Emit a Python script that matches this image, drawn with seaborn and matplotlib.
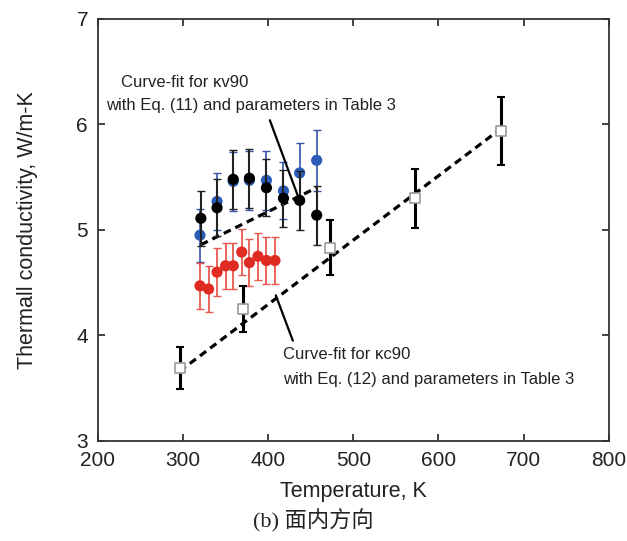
"""
Thermal conductivity vs temperature, in-plane direction (panel b).
"""

import numpy as np
import pandas as pd
import matplotlib
matplotlib.use("Agg")
import matplotlib.pyplot as plt
import seaborn as sns

# measured kappa_v90 (blue), kappa (black), kappa (red), kappa_c90 (open squares)
t_blue = [320, 340, 359, 378, 398, 418, 437, 457]
k_blue = [4.95, 5.27, 5.46, 5.47, 5.47, 5.37, 5.54, 5.66]
e_blue = [0.25, 0.27, 0.28, 0.28, 0.28, 0.27, 0.28, 0.29]

t_black = [321, 340, 359, 378, 398, 418, 437, 457]
k_black = [5.11, 5.21, 5.48, 5.49, 5.40, 5.30, 5.28, 5.14]
e_black = [0.26, 0.27, 0.28, 0.28, 0.27, 0.27, 0.28, 0.28]

t_red = [320, 330, 340, 350, 359, 369, 378, 388, 398, 408]
k_red = [4.47, 4.44, 4.60, 4.66, 4.66, 4.79, 4.69, 4.75, 4.71, 4.71]
e_red = [0.22, 0.22, 0.23, 0.22, 0.22, 0.22, 0.22, 0.22, 0.22, 0.22]

t_open = [297, 371, 473, 572, 673]
k_open = [3.69, 4.25, 4.83, 5.30, 5.94]
e_open = [0.20, 0.22, 0.26, 0.28, 0.32]

# curve fits (end points)
t_fit_v = [321, 457]
k_fit_v = [4.86, 5.40]
t_fit_c = [296, 675]
k_fit_c = [3.66, 5.97]

OUT = "out.png"


def main():
    sns.set_style("ticks")
    plt.rcParams["font.family"] = ["Liberation Sans", "DejaVu Sans"]
    plt.rcParams["axes.edgecolor"] = "#333333"
    plt.rcParams["xtick.color"] = "#333333"
    plt.rcParams["ytick.color"] = "#333333"

    fig = plt.figure(figsize=(6.27, 5.41), dpi=100)
    ax = fig.add_axes([0.156, 0.185, 0.815, 0.78])

    fit_v = pd.DataFrame({"T": t_fit_v, "k": k_fit_v})
    fit_c = pd.DataFrame({"T": t_fit_c, "k": k_fit_c})
    sns.lineplot(data=fit_v, x="T", y="k", ax=ax, color="black", lw=2.3,
                 linestyle=(0, (2.4, 1.6)), zorder=2)
    sns.lineplot(data=fit_c, x="T", y="k", ax=ax, color="black", lw=2.3,
                 linestyle=(0, (2.4, 1.6)), zorder=2)

    ax.errorbar(t_blue, k_blue, yerr=e_blue, fmt="none", ecolor="#3553a8",
                elinewidth=1.2, capsize=3, zorder=3)
    sns.scatterplot(x=t_blue, y=k_blue, ax=ax, color="#2b5cb8", s=65,
                    edgecolor="none", zorder=4)

    ax.errorbar(t_black, k_black, yerr=e_black, fmt="none", ecolor="#222222",
                elinewidth=1.5, capsize=3, zorder=5)
    sns.scatterplot(x=t_black, y=k_black, ax=ax, color="black", s=65,
                    edgecolor="none", zorder=6)

    ax.errorbar(t_red, k_red, yerr=e_red, fmt="none", ecolor="#e8584e",
                elinewidth=1.3, capsize=3, zorder=7)
    sns.scatterplot(x=t_red, y=k_red, ax=ax, color="#e02b22", s=65,
                    edgecolor="none", zorder=8)

    ax.errorbar(t_open, k_open, yerr=e_open, fmt="none", ecolor="black",
                elinewidth=2.2, capsize=3, capthick=1.5, zorder=7)
    sns.scatterplot(x=t_open, y=k_open, ax=ax, marker="s", s=55,
                    facecolor="white", edgecolor="#9a9a9a", linewidth=1.2,
                    zorder=8)

    # leader lines
    ax.plot([402, 435], [6.04, 5.32], color="black", lw=1.6, zorder=9)
    ax.plot([409, 429], [4.38, 3.95], color="black", lw=1.6, zorder=9)

    ax.text(227, 6.40, "Curve-fit for κv90", fontsize=12, color="#222222",
            va="center")
    ax.text(210, 6.18, "with Eq. (11) and parameters in Table 3",
            fontsize=12, color="#222222", va="center")
    ax.text(417, 3.82, "Curve-fit for κc90", fontsize=12, color="#222222",
            va="center")
    ax.text(417, 3.58, "with Eq. (12) and parameters in Table 3",
            fontsize=12, color="#222222", va="center")

    ax.set_xlim(200, 800)
    ax.set_ylim(3, 7)
    ax.set_xticks(range(200, 801, 100))
    ax.set_yticks(range(3, 8))
    ax.tick_params(direction="in", top=True, right=True, labelsize=15,
                   length=5, width=1.3, labelcolor="#222222")
    ax.tick_params(axis="x", pad=7)
    ax.tick_params(axis="y", pad=7)
    for sp in ax.spines.values():
        sp.set_linewidth(1.3)

    ax.set_xlabel("Temperature, K", fontsize=15.5, color="#222222", labelpad=8)
    ax.set_ylabel("Thermall conductivity, W/m-K", fontsize=15.5,
                  color="#222222", labelpad=28)

    fig.text(0.5, 0.037, "(b) 面内方向", ha="center", va="center", fontsize=16,
             family=["Liberation Serif", "Noto Sans CJK SC"], color="#222222")

    fig.savefig(OUT, dpi=100)
    print("Saved", OUT)


if __name__ == "__main__":
    main()
